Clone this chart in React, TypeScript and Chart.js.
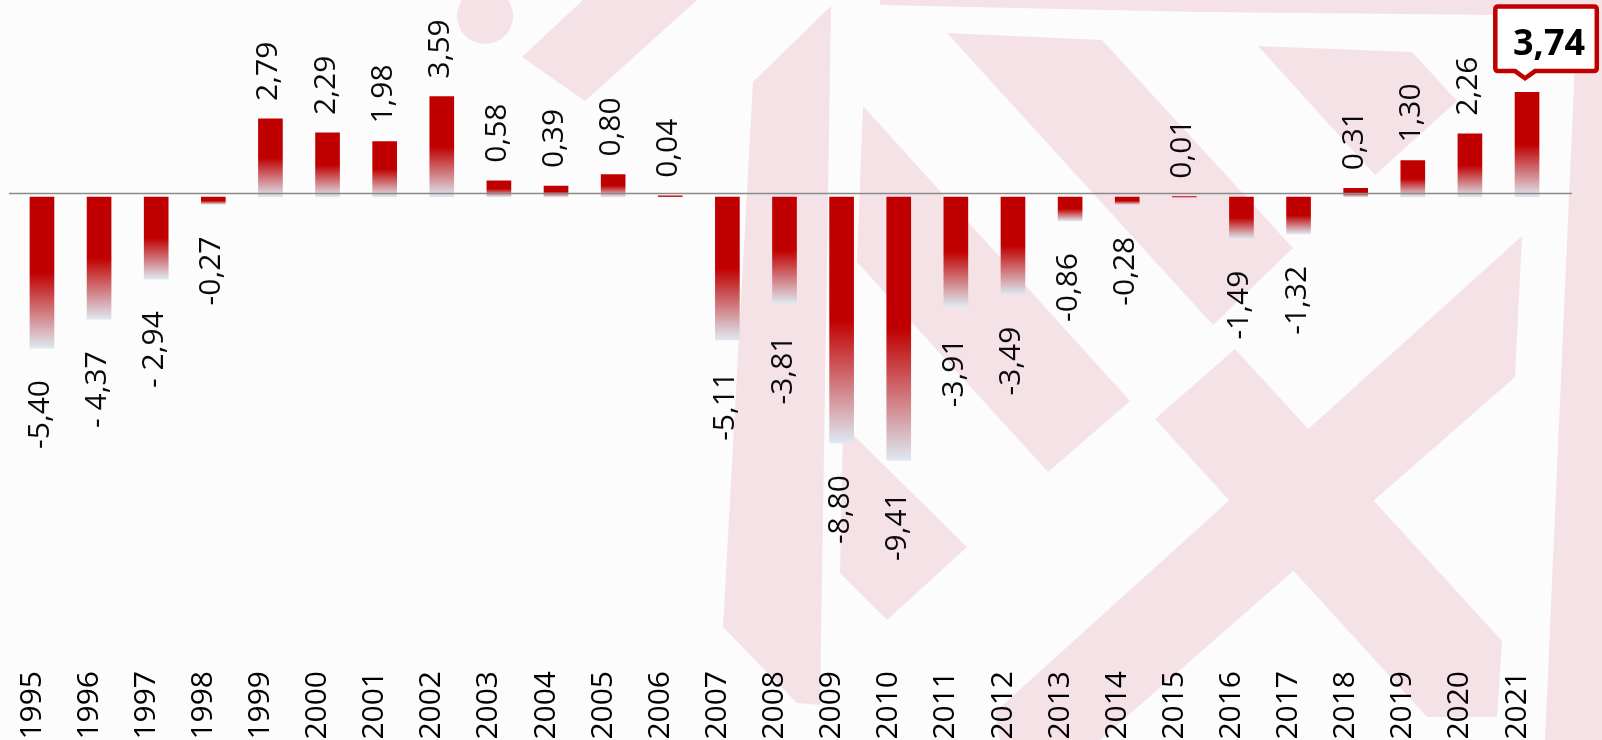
import React, { useEffect, useRef } from "react";
import { Chart, registerables } from "chart.js";

Chart.register(...registerables);

const years = [
  "1995", "1996", "1997", "1998", "1999", "2000", "2001", "2002", "2003",
  "2004", "2005", "2006", "2007", "2008", "2009", "2010", "2011", "2012",
  "2013", "2014", "2015", "2016", "2017", "2018", "2019", "2020", "2021",
];

const values = [
  -5.4, -4.37, -2.94, -0.27, 2.79, 2.29, 1.98, 3.59, 0.58,
  0.39, 0.8, 0.04, -5.11, -3.81, -8.8, -9.41, -3.91, -3.49,
  -0.86, -0.28, 0.01, -1.49, -1.32, 0.31, 1.3, 2.26, 3.74,
];

const valueLabels = [
  "-5,40", "- 4,37", "- 2,94", "-0,27", "2,79", "2,29", "1,98", "3,59", "0,58",
  "0,39", "0,80", "0,04", "-5,11", "-3,81", "-8,80", "-9,41", "-3,91", "-3,49",
  "-0,86", "-0,28", "0,01", "-1,49", "-1,32", "0,31", "1,30", "2,26", "3,74",
];

const highlightIndex = 26;

const RED = "#c00000";
const FADE = "#dfe8f1";
const PINK = "#f5e2e7";
const FONT = "'Open Sans', sans-serif";

// decorative watermark shapes (background only)
const watermark: number[][][] = [
  [[583, 0], [697, 0], [585, 101], [522, 57]],
  [[753, 82], [831, 6], [820, 705], [797, 703], [723, 627]],
  [[863, 106], [1130, 401], [1048, 472], [857, 262]],
  [[843, 425], [967, 547], [887, 620], [840, 573]],
  [[947, 33], [1102, 40], [1293, 248], [1213, 325]],
  [[1258, 46], [1412, 52], [1457, 101], [1375, 175]],
  [[1522, 236], [1515, 377], [1100, 740], [1000, 740], [995, 712]],
  [[1235, 349], [1502, 641], [1497, 717], [1427, 717], [1155, 419]],
  [[1555, 0], [1602, 0], [1602, 740], [1545, 740], [1575, 61]],
  [[880, 0], [1602, 0], [1602, 16], [1200, 12], [880, 5]],
];

const backgroundPlugin = {
  id: "bgWatermark",
  beforeDraw(chart: any) {
    const ctx = chart.ctx;
    ctx.save();
    ctx.fillStyle = "#fcfcfc";
    ctx.fillRect(0, 0, chart.width, chart.height);
    ctx.fillStyle = PINK;
    ctx.beginPath();
    ctx.arc(485, 16, 28, 0, Math.PI * 2);
    ctx.fill();
    for (const poly of watermark) {
      ctx.beginPath();
      poly.forEach(([x, y], i) => (i === 0 ? ctx.moveTo(x, y) : ctx.lineTo(x, y)));
      ctx.closePath();
      ctx.fill();
    }
    ctx.restore();
  },
};

const overlayPlugin = {
  id: "overlay",
  afterDatasetsDraw(chart: any) {
    const ctx = chart.ctx;
    const yScale = chart.scales.y;
    const zero = yScale.getPixelForValue(0);
    const meta = chart.getDatasetMeta(0);
    ctx.save();
    // zero line
    ctx.strokeStyle = "#8a8a8a";
    ctx.lineWidth = 1.5;
    ctx.beginPath();
    ctx.moveTo(9, zero - 3.5);
    ctx.lineTo(1572, zero - 3.5);
    ctx.stroke();

    // value labels
    ctx.fillStyle = "#0a0a0a";
    ctx.font = `30px ${FONT}`;
    ctx.textBaseline = "alphabetic";
    meta.data.forEach((el: any, i: number) => {
      if (i === highlightIndex) return;
      const v = values[i];
      const bx = el.x + 7;
      ctx.save();
      if (v >= 0) {
        ctx.translate(bx, yScale.getPixelForValue(v) - 18);
        ctx.rotate(-Math.PI / 2);
        ctx.textAlign = "left";
      } else {
        ctx.translate(bx, yScale.getPixelForValue(v) + 32);
        ctx.rotate(-Math.PI / 2);
        ctx.textAlign = "right";
      }
      ctx.fillText(valueLabels[i], 0, 0);
      ctx.restore();
    });

    // callout for highlighted value
    const hl = meta.data[highlightIndex];
    if (hl) {
      const x = hl.x;
      const y = hl.y;
      const left = x - 31.75;
      const right = x + 69.75;
      const top = y - 85.75;
      const bottom = y - 21.25;
      const tipX = x - 2;
      const tipY = y - 14;
      const r = 3;
      ctx.beginPath();
      ctx.moveTo(left + r, top);
      ctx.lineTo(right - r, top);
      ctx.quadraticCurveTo(right, top, right, top + r);
      ctx.lineTo(right, bottom - r);
      ctx.quadraticCurveTo(right, bottom, right - r, bottom);
      ctx.lineTo(tipX + 10, bottom);
      ctx.lineTo(tipX, tipY);
      ctx.lineTo(tipX - 10, bottom);
      ctx.lineTo(left + r, bottom);
      ctx.quadraticCurveTo(left, bottom, left, bottom - r);
      ctx.lineTo(left, top + r);
      ctx.quadraticCurveTo(left, top, left + r, top);
      ctx.closePath();
      ctx.fillStyle = "#ffffff";
      ctx.fill();
      ctx.strokeStyle = RED;
      ctx.lineWidth = 4.5;
      ctx.lineJoin = "miter";
      ctx.stroke();
      ctx.fillStyle = "#000";
      ctx.font = `bold 36px ${FONT}`;
      ctx.textAlign = "center";
      ctx.textBaseline = "alphabetic";
      ctx.fillText(valueLabels[highlightIndex], x + 22, y - 37);
    }
    ctx.restore();
  },
};

export default function App() {
  const canvasRef = useRef<HTMLCanvasElement | null>(null);

  useEffect(() => {
    const canvas = canvasRef.current;
    if (!canvas) return;
    const chart = new Chart(canvas, {
      type: "bar",
      data: {
        labels: years,
        datasets: [
          {
            data: values,
            barThickness: 24,
            borderWidth: 0,
            backgroundColor: (c: any) => {
              const ch = c.chart;
              const ys = ch.scales && ch.scales.y;
              if (!ys || c.raw === undefined) return RED;
              const v = c.raw as number;
              const top = ys.getPixelForValue(Math.max(v, 0));
              const bot = ys.getPixelForValue(Math.min(v, 0));
              if (!isFinite(top) || !isFinite(bot) || bot - top < 0.5) return RED;
              const g = ch.ctx.createLinearGradient(0, top, 0, bot);
              g.addColorStop(0, RED);
              g.addColorStop(0.5, RED);
              g.addColorStop(1, FADE);
              return g;
            },
          },
        ],
      },
      options: {
        animation: false,
        responsive: false,
        devicePixelRatio: 1,
        layout: { padding: { left: 13.4, right: 46.4, top: 0, bottom: 0 } },
        plugins: {
          legend: { display: false },
          tooltip: { enabled: false },
          title: { display: false },
        },
        scales: {
          x: {
            grid: { display: false, drawTicks: false },
            border: { display: false },
            ticks: {
              autoSkip: false,
              minRotation: 90,
              maxRotation: 90,
              padding: 11,
              labelOffset: -10,
              color: "#000",
              font: { family: FONT, size: 30 },
            },
            afterFit: (scale: any) => {
              scale.height = 80;
            },
          },
          y: {
            display: false,
            min: -16.55,
            max: 7.04,
          },
        },
      },
      plugins: [backgroundPlugin, overlayPlugin],
    });
    return () => chart.destroy();
  }, []);

  return (
    <div style={{ position: "fixed", left: 0, top: 0, width: 1602, height: 740 }}>
      <canvas ref={canvasRef} width={1602} height={740} style={{ display: "block" }} />
    </div>
  );
}
